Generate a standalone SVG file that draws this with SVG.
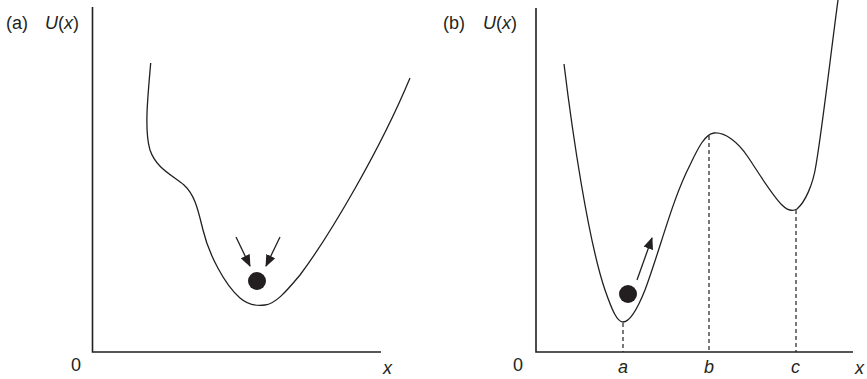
<svg xmlns="http://www.w3.org/2000/svg" width="867" height="379" viewBox="0 0 867 379">
<style>
text{font-family:"Liberation Sans",Arial,sans-serif;font-size:18px;fill:#231f20}
.i{font-style:italic}
.ax{stroke:#231f20;stroke-width:1.6;fill:none}
.cv{stroke:#231f20;stroke-width:1.3;fill:none}
.dash{stroke:#231f20;stroke-width:1.2;stroke-dasharray:4 3;fill:none}
.arr{stroke:#231f20;stroke-width:1.3;fill:none;marker-end:url(#ah)}
</style>
<defs>
<marker id="ah" viewBox="0 0 12 10" refX="11" refY="5" markerWidth="12" markerHeight="10" markerUnits="userSpaceOnUse" orient="auto">
<path d="M0,0 L12,5 L0,10 Z" fill="#231f20"/>
</marker>
</defs>
<g id="panel-a">
<text x="6" y="29">(a)</text>
<text x="45" y="29"><tspan class="i">U</tspan>(<tspan class="i">x</tspan>)</text>
<path class="ax" d="M92.5,7 V352 H381"/>
<text x="71" y="371">0</text>
<text class="i" x="383" y="374">x</text>
<path class="cv" d="M150.7,63 C148,95 144,130 150,150 C156,168 172,175 184,185 C195,195 198,210 203,230 C209,255 225,285 240,298 C248,305 258,306 265,305 C275,304 285,293 300,275 C330,235 380,150 410,78"/>
<line class="arr" x1="236" y1="237" x2="250" y2="266"/>
<line class="arr" x1="280" y1="237" x2="266" y2="266"/>
<circle cx="257" cy="281" r="9" fill="#231f20"/>
</g>
<g id="panel-b">
<text x="443" y="29">(b)</text>
<text x="483" y="29"><tspan class="i">U</tspan>(<tspan class="i">x</tspan>)</text>
<path class="ax" d="M536,8 V352 H853"/>
<text x="513" y="371">0</text>
<text class="i" x="618" y="373">a</text>
<text class="i" x="704" y="373">b</text>
<text class="i" x="791" y="373">c</text>
<text class="i" x="855" y="374">x</text>
<path class="cv" d="M564,64 C572,130 588,240 605,290 C612,310 617,322 623,322 C630,322 637,310 645,290 C660,250 672,200 690,165 C698,148 705,134 714,133 C725,132 738,142 748,157 C760,175 772,195 782,205 C787,210 792,212 797,209 C805,202 813,185 816,165 C822,130 830,60 838,0"/>
<path class="dash" d="M623,323 V352 M709,136 V352 M796,210 V352"/>
<line class="arr" x1="637" y1="280" x2="652" y2="238"/>
<circle cx="628" cy="294" r="9" fill="#231f20"/>
</g>
</svg>
